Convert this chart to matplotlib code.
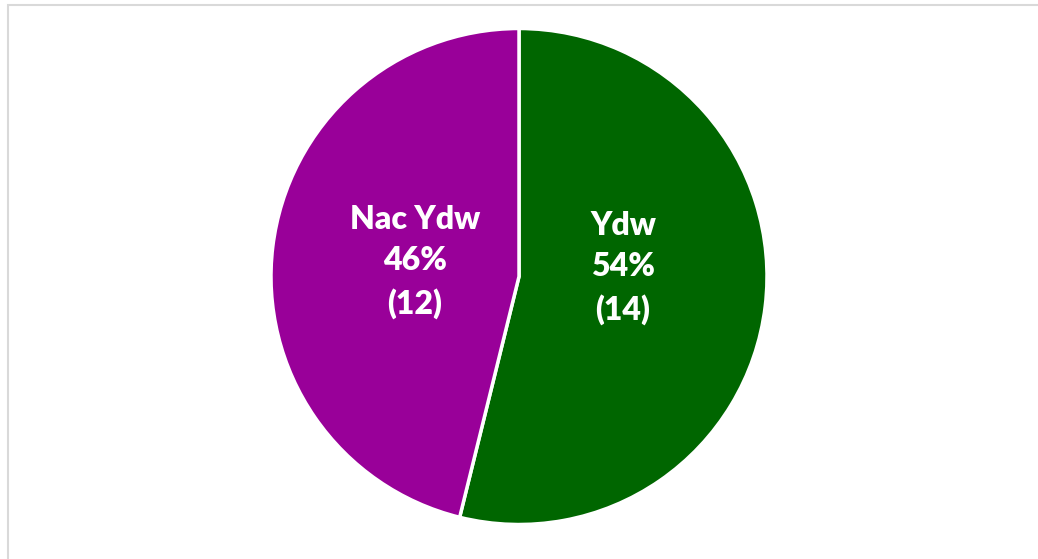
import matplotlib
matplotlib.use('Agg')
import matplotlib.pyplot as plt
from matplotlib.patches import Rectangle

# Data
labels = ['Ydw', 'Nac Ydw']
counts = [14, 12]
colors = ['#006600', '#990099']

total = sum(counts)
pcts = [round(c / total * 100) for c in counts]

fig = plt.figure(figsize=(10.38, 5.59), dpi=100)

# light grey chart border (only top/left visible in the original)
fig.add_artist(Rectangle((7.5 / 1038, -0.05), 1.2, 1.05 - 4.5 / 559,
                         transform=fig.transFigure, fill=False,
                         edgecolor='#d9d9d9', linewidth=1.5))

cx, cy, r = 519, 276.5, 248
ax = fig.add_axes([(cx - r) / 1038, (559 - cy - r) / 559, 2 * r / 1038, 2 * r / 559])
ax.pie(counts, colors=colors, startangle=90, counterclock=False, radius=1,
       wedgeprops=dict(edgecolor='white', linewidth=2.5))
ax.set_xlim(-1, 1)
ax.set_ylim(-1, 1)
ax.set_aspect('equal')
ax.axis('off')

# label positions (pixel offsets from pie centre, converted to radius units)
label_pos = [(623 - cx, cy - 268), (415 - cx, cy - 262)]
for lab, p, n, (dx, dy) in zip(labels, pcts, counts, label_pos):
    ax.text(dx / r, dy / r, f'{lab}\n{p}%\n({n})', ha='center', va='center',
            color='white', fontsize=23, fontweight='heavy', family='Lato',
            linespacing=1.5)

fig.savefig('out.png', dpi=100, facecolor='white')
